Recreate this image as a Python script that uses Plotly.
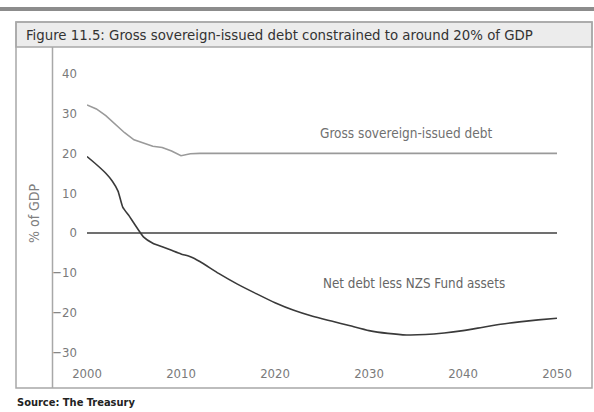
import plotly.graph_objects as go

# Gross sovereign-issued debt (% of GDP)
gross_years = [2000, 2001, 2002, 2003, 2004, 2005, 2006, 2007, 2008, 2009, 2010, 2011, 2012, 2020, 2030, 2040, 2050]
gross_vals = [32.2, 31.2, 29.5, 27.4, 25.2, 23.4, 22.6, 21.8, 21.5, 20.6, 19.4, 19.9, 20.0, 20.0, 20.0, 20.0, 20.0]

# Net debt less NZS Fund assets (% of GDP)
net_years = [2000, 2001, 2002, 2002.7, 2003.3, 2003.8, 2004.5, 2005, 2006, 2007, 2008, 2009, 2010, 2011, 2012,
             2014, 2016, 2018, 2020, 2022, 2024, 2026, 2028, 2030, 2032, 2034, 2036, 2038,
             2040, 2042, 2044, 2046, 2048, 2050]
net_vals = [19.2, 17.2, 15.0, 13.0, 10.5, 6.5, 4.2, 2.4, -1.0, -2.6, -3.5, -4.4, -5.3, -6.0, -7.2,
            -10.2, -12.9, -15.3, -17.6, -19.5, -21.0, -22.2, -23.4, -24.6, -25.3, -25.7, -25.6, -25.2,
            -24.6, -23.8, -23.0, -22.4, -21.9, -21.5]

y_ticks = [-30, -20, -10, 0, 10, 20, 30, 40]
x_ticks = [2000, 2010, 2020, 2030, 2040, 2050]

title_text = "Figure 11.5: Gross sovereign-issued debt constrained to around 20% of GDP"
source_text = "Source: The Treasury"
y_title = "% of GDP"
gross_label = "Gross sovereign-issued debt"
net_label = "Net debt less NZS Fund assets"

W, H = 594, 412
ML, MR, MT, MB = 87, 37, 62, 52
PW, PH = W - ML - MR, H - MT - MB

FONT = "DejaVu Sans Condensed, Liberation Sans Narrow, Open Sans, sans-serif"


def px(x):
    return (x - ML) / PW


def py(y):
    return (H - MB - y) / PH


fig = go.Figure()
fig.add_trace(go.Scatter(x=gross_years, y=gross_vals, mode="lines",
                         line=dict(color="#9a9a9a", width=1.6), hoverinfo="skip"))
fig.add_trace(go.Scatter(x=net_years, y=net_vals, mode="lines",
                         line=dict(color="#3a3a3a", width=1.6, shape="spline", smoothing=0.5),
                         hoverinfo="skip"))

shapes = [
    # grey band across the top of the page
    dict(type="rect", xref="paper", yref="paper", x0=px(0), x1=px(W), y0=py(11), y1=py(7),
         fillcolor="#8c8c8c", line=dict(width=0), layer="below"),
    # title strip
    dict(type="rect", xref="paper", yref="paper", x0=px(16), x1=px(592), y0=py(47), y1=py(22),
         fillcolor="#ececec", line=dict(color="#a8a8a8", width=1.5), layer="below"),
    # outer frame
    dict(type="rect", xref="paper", yref="paper", x0=px(16), x1=px(592), y0=py(388), y1=py(22),
         fillcolor="rgba(0,0,0,0)", line=dict(color="#a8a8a8", width=1.5), layer="below"),
    # divider between axis-title column and chart
    dict(type="line", xref="paper", yref="paper", x0=px(52.5), x1=px(52.5), y0=py(388), y1=py(47),
         line=dict(color="#a8a8a8", width=1.5), layer="below"),
]

annotations = [
    dict(text=title_text, x=px(24), y=py(34.5), xref="paper", yref="paper", xanchor="left",
         yanchor="middle", showarrow=False, font=dict(family=FONT, size=14.8, color="#333333")),
    dict(text="<b>" + source_text + "</b>", x=px(15), y=py(402), xref="paper", yref="paper",
         xanchor="left", yanchor="middle", showarrow=False,
         font=dict(family=FONT, size=11, color="#222222")),
    dict(text=y_title, x=px(34), y=py(213), xref="paper", yref="paper", xanchor="center",
         yanchor="middle", textangle=-90, showarrow=False,
         font=dict(family=FONT, size=14, color="#808080")),
    dict(text=gross_label, x=px(405.5), y=py(133), xref="paper", yref="paper", xanchor="center",
         yanchor="middle", showarrow=False, font=dict(family=FONT, size=13.5, color="#707070")),
    dict(text=net_label, x=px(413.5), y=py(283), xref="paper", yref="paper", xanchor="center",
         yanchor="middle", showarrow=False, font=dict(family=FONT, size=13.3, color="#666666")),
]

fig.update_layout(
    width=W, height=H,
    margin=dict(l=ML, r=MR, t=MT, b=MB, pad=0),
    paper_bgcolor="white", plot_bgcolor="white",
    showlegend=False,
    shapes=shapes,
    annotations=annotations,
    font=dict(family=FONT, size=13, color="#7a7a7a"),
    xaxis=dict(range=[2000, 2050], tickvals=x_ticks, showgrid=False, zeroline=False,
               showline=False, ticks="", ticklabelstandoff=4, fixedrange=True),
    yaxis=dict(range=[-32, 43], tickvals=y_ticks, showgrid=False, zeroline=True,
               zerolinecolor="#707070", zerolinewidth=1.6, showline=False, ticks="",
               ticklabelstandoff=9, fixedrange=True),
)

fig.write_html("out.html", config={"displayModeBar": False})
